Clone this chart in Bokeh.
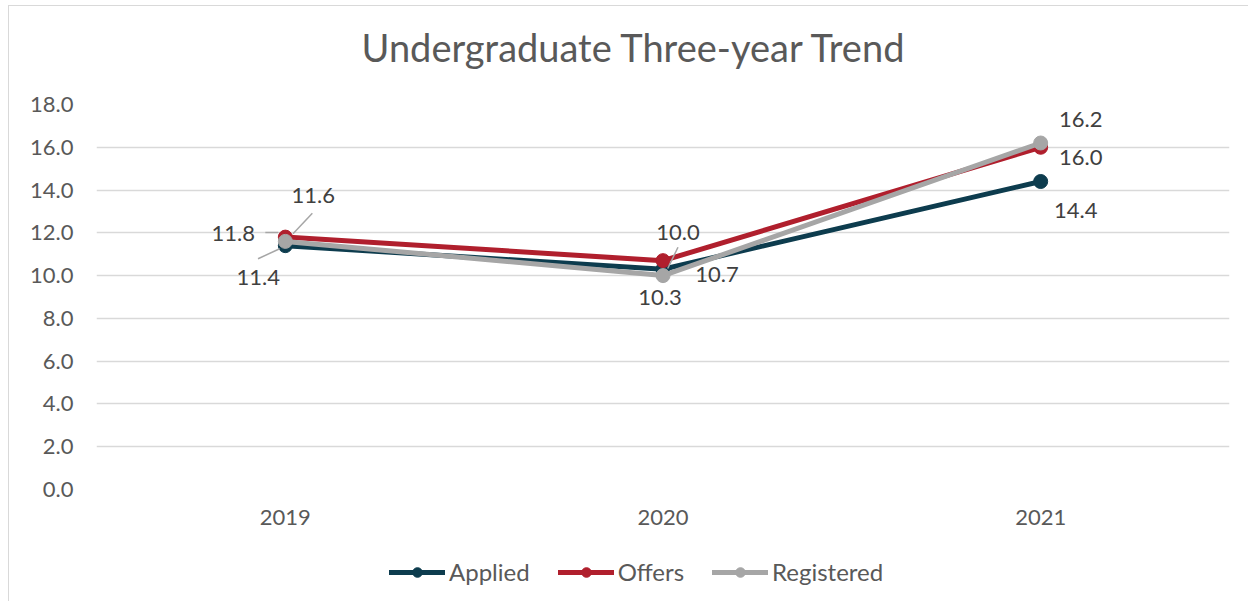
from bokeh.plotting import figure
from bokeh.layouts import column
from bokeh.models import Range1d, FixedTicker, Legend, LegendItem, ColumnDataSource, PrintfTickFormatter
from bokeh.embed import file_html
from bokeh.resources import INLINE
from bokeh.core.properties import value

# ---- data ----
title = "Undergraduate Three-year Trend"
years = ["2019", "2020", "2021"]
applied = [11.4, 10.3, 14.4]
offers = [11.8, 10.7, 16.0]
registered = [11.6, 10.0, 16.2]
y_ticks = [0, 2, 4, 6, 8, 10, 12, 14, 16, 18]

# ---- style ----
FONT = "Lato"
TXT = "#595959"
LBL = "#404040"
FS = "22px"
colors = {"Applied": "#0d3c4e", "Offers": "#b01f2d", "Registered": "#a6a6a6"}

# label offsets in screen px (dx, dy; dy positive = down)
label_off = {
    "Applied": ([-27, -3, 35], [32, 28, 29]),
    "Offers": ([-52, 54, 40], [-4, 14, 10]),
    "Registered": ([28, 15, 40], [-46, -43, -24]),
}
# leader lines: (series, index, x0px, y0px, x1px, y1px) relative to the point
leaders = [
    ("Registered", 0, 7.7, -7.6, 27, -28.2),
    ("Applied", 0, -27.3, 13.1, -5.7, 3.1),
    ("Offers", 0, -20, -4.6, -7, -4.6),
    ("Registered", 1, 4.7, -7.1, 15, -28.4),
]

W = 1239
H0, H1, H2 = 66, 477, 52
ML, MR, MT, MB = 87, 19, 32, 60
frame_w = W - ML - MR
frame_h = H1 - MT - MB
px_x = frame_w / 3.0
px_y = frame_h / 18.0

# ---- title strip ----
p0 = figure(width=W, height=H0, output_backend="svg", toolbar_location=None, title=None,
            x_range=Range1d(ML, W - MR), y_range=Range1d(0, H0),
            x_axis_type=None, y_axis_type=None,
            min_border_left=ML, min_border_right=MR, min_border_top=0, min_border_bottom=0)
p0.outline_line_color = None
p0.xgrid.visible = False
p0.ygrid.visible = False
p0.text(x=[625], y=[H0 - 55], text=[title], y_offset=-15,
        text_font=value(FONT), text_font_size="38px",
        text_color=TXT, text_align="center", text_baseline="alphabetic")

# ---- main chart ----
p = figure(width=W, height=H1, output_backend="svg", toolbar_location=None, title=None,
           x_range=Range1d(-0.5, 2.5), y_range=Range1d(0, 18),
           min_border_left=ML, min_border_right=MR, min_border_top=MT, min_border_bottom=MB)
p.outline_line_color = None
p.background_fill_color = "white"
p.border_fill_color = "white"

xs = list(range(len(years)))
p.xaxis.ticker = FixedTicker(ticks=xs)
p.xaxis.major_label_overrides = {i: y for i, y in enumerate(years)}
p.yaxis.ticker = FixedTicker(ticks=y_ticks)
p.yaxis.formatter = PrintfTickFormatter(format="%.1f")
for ax in (p.xaxis, p.yaxis):
    ax.axis_line_color = None
    ax.major_tick_line_color = None
    ax.minor_tick_line_color = None
    ax.major_tick_out = 0
    ax.major_tick_in = 0
    ax.major_label_text_font = FONT
    ax.major_label_text_font_size = FS
    ax.major_label_text_color = TXT
p.xaxis.major_label_standoff = 20
p.yaxis.major_label_standoff = 23

p.xgrid.grid_line_color = None
p.ygrid.ticker = FixedTicker(ticks=y_ticks)
p.ygrid.grid_line_color = "#d9d9d9"
p.ygrid.grid_line_width = 1.4

series = [("Applied", applied), ("Offers", offers), ("Registered", registered)]
for name, vals in series:
    c = colors[name]
    p.line(xs, vals, line_color=c, line_width=5, line_join="round", line_cap="round")
    p.scatter(xs, vals, size=14, fill_color=c, line_color=c)

# leader lines
vals_of = dict(series)
x0s, y0s, x1s, y1s = [], [], [], []
for name, i, ax0, ay0, ax1, ay1 in leaders:
    v = vals_of[name][i]
    x0s.append(i + ax0 / px_x)
    y0s.append(v - ay0 / px_y)
    x1s.append(i + ax1 / px_x)
    y1s.append(v - ay1 / px_y)
p.segment(x0s, y0s, x1s, y1s, line_color="#a6a6a6", line_width=1.5)

# data labels
for name, vals in series:
    dx, dy = label_off[name]
    src = ColumnDataSource(dict(x=xs, y=vals, t=["%.1f" % v for v in vals], dx=dx, dy=dy))
    p.text(x="x", y="y", text="t", x_offset="dx", y_offset="dy", source=src,
           text_font=value(FONT), text_font_size=FS, text_color=LBL,
           text_align="center", text_baseline="middle")

# ---- legend strip ----
p2 = figure(width=W, height=H2, output_backend="svg", toolbar_location=None, title=None,
            x_range=Range1d(0, 1), y_range=Range1d(0, 1),
            x_axis_type=None, y_axis_type=None,
            min_border_left=ML, min_border_right=MR, min_border_top=0, min_border_bottom=0)
p2.outline_line_color = None
p2.xgrid.visible = False
p2.ygrid.visible = False
items = []
for name, vals in series:
    c = colors[name]
    l = p2.line([-5, -4], [-5, -5], line_color=c, line_width=5, line_cap="round")
    s = p2.scatter([-5], [-5], size=13, fill_color=c, line_color=c)
    items.append(LegendItem(label=name, renderers=[l, s]))
legend = Legend(items=items, orientation="horizontal", location=(293, 15),
                glyph_width=56, glyph_height=24, label_height=24, label_standoff=4, spacing=28,
                padding=0, margin=0, border_line_color=None, background_fill_alpha=0,
                label_text_font=FONT, label_text_font_size="24px", label_text_color=TXT,
                label_text_baseline="middle")
p2.add_layout(legend)

layout = column(p0, p, p2, spacing=0,
                styles={"margin-left": "8px", "margin-top": "5px",
                        "border-left": "1px solid #d9d9d9", "border-top": "1px solid #d9d9d9"})

open("out.html", "w").write(file_html(layout, INLINE))
